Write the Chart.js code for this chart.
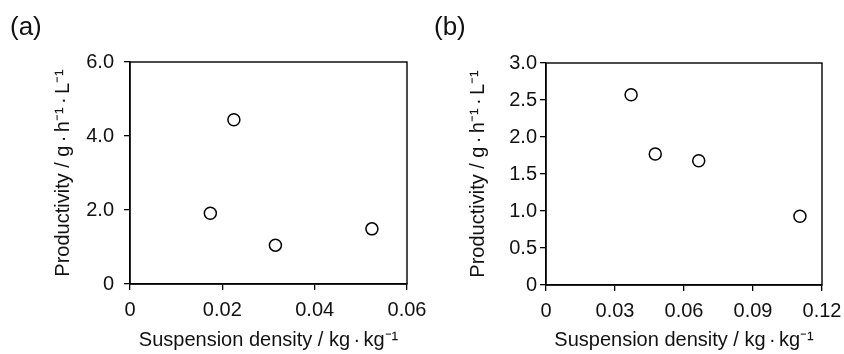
<!DOCTYPE html>
<html>
<head>
<meta charset="utf-8">
<script src="https://cdn.jsdelivr.net/npm/chart.js@4"></script>
<style>
  html, body { margin: 0; padding: 0; background: #fff; }
  body { width: 844px; height: 354px; position: relative; overflow: hidden; font-family: "Liberation Sans", Arial, sans-serif; }
  .panel { position: absolute; top: 0; height: 354px; }
  .tag { position: absolute; top: 11px; font-size: 26px; line-height: normal; color: #111; }
</style>
</head>
<body>
<div class="panel" style="left:0; width:450px"><canvas id="chartA"></canvas></div>
<div class="panel" style="left:422px; width:422px"><canvas id="chartB"></canvas></div>
<div class="tag" style="left:10px">(a)</div>
<div class="tag" style="left:434px">(b)</div>
<script>
// datos panel (a)
const densityA = [0.0174, 0.0225, 0.0315, 0.0524];
const productivityA = [1.91, 4.44, 1.05, 1.49];
const xTicksA = [0, 0.02, 0.04, 0.06];
const xLabelsA = ['0', '0.02', '0.04', '0.06'];
const yTicksA = [0, 2, 4, 6];
const yLabelsA = ['0', '2.0', '4.0', '6.0'];

// datos panel (b)
const densityB = [0.0370, 0.0475, 0.0664, 0.1104];
const productivityB = [2.57, 1.77, 1.68, 0.93];
const xTicksB = [0, 0.03, 0.06, 0.09, 0.12];
const xLabelsB = ['0', '0.03', '0.06', '0.09', '0.12'];
const yTicksB = [0, 0.5, 1, 1.5, 2, 2.5, 3];
const yLabelsB = ['0', '0.5', '1.0', '1.5', '2.0', '2.5', '3.0'];

const dot = '\u2006\u00B7\u2006';
const xTitle = 'Suspension density / kg' + dot + 'kg\u207B\u00B9';
const yTitle = 'Productivity / g' + dot + 'h\u207B\u00B9' + dot + 'L\u207B\u00B9';

Chart.defaults.font.family = '"Liberation Sans", Arial, sans-serif';
Chart.defaults.color = '#111';

// marco completo alrededor del área del gráfico
const frame = {
    id: 'frame',
    afterDraw(chart) {
        const a = chart.chartArea;
        const c = chart.ctx;
        c.save();
        c.strokeStyle = '#000';
        c.lineWidth = 1.4;
        c.strokeRect(a.left, a.top, a.right - a.left, a.bottom - a.top);
        c.restore();
    }
};

function makeChart(id, xs, ys, xTicks, xLabels, yTicks, yLabels, opts) {
    const ctx = document.getElementById(id).getContext('2d');
    return new Chart(ctx, {
        type: 'scatter',
        data: {
            datasets: [{
                data: xs.map((x, i) => ({ x: x, y: ys[i] })),
                pointStyle: 'circle',
                pointRadius: 6,
                pointBackgroundColor: '#fff',
                pointBorderColor: '#000',
                pointBorderWidth: 1.5
            }]
        },
        options: {
            responsive: true,
            maintainAspectRatio: false,
            animation: false,
            layout: { padding: opts.pad },
            plugins: { legend: { display: false }, tooltip: { enabled: false } },
            scales: {
                x: {
                    type: 'linear',
                    min: xTicks[0],
                    max: xTicks[xTicks.length - 1],
                    afterBuildTicks: s => { s.ticks = xTicks.map(v => ({ value: v })); },
                    afterFit: s => { s.height = opts.xHeight; s.paddingLeft = 0; s.paddingRight = 0; },
                    ticks: {
                        autoSkip: false,
                        maxRotation: 0,
                        padding: 8,
                        font: { size: 20 },
                        callback: (v, i) => xLabels[i]
                    },
                    grid: { drawOnChartArea: false, tickLength: 6, color: '#000', lineWidth: 1.3 },
                    border: { display: true, color: '#000', width: 1.4 },
                    title: { display: true, text: xTitle, font: { size: 20 }, padding: { top: 0, bottom: 2 } }
                },
                y: {
                    type: 'linear',
                    min: yTicks[0],
                    max: yTicks[yTicks.length - 1],
                    afterBuildTicks: s => { s.ticks = yTicks.map(v => ({ value: v })); },
                    afterFit: s => { s.width = opts.yWidth; s.paddingTop = 0; s.paddingBottom = 0; },
                    ticks: {
                        autoSkip: false,
                        padding: opts.yPad,
                        font: { size: 20 },
                        callback: (v, i) => yLabels[i]
                    },
                    grid: { drawOnChartArea: false, tickLength: 6, color: '#000', lineWidth: 1.3 },
                    border: { display: true, color: '#000', width: 1.4 },
                    title: { display: true, text: yTitle, font: { size: 20 }, padding: { top: opts.yTitlePad, bottom: 0 } }
                }
            }
        },
        plugins: [frame]
    });
}

makeChart('chartA', densityA, productivityA, xTicksA, xLabelsA, yTicksA, yLabelsA,
    { pad: { top: 62, right: 43, left: 0, bottom: 0 }, yWidth: 130, xHeight: 70, yPad: 10, yTitlePad: 51 });
makeChart('chartB', densityB, productivityB, xTicksB, xLabelsB, yTicksB, yLabelsB,
    { pad: { top: 63, right: 22, left: 0, bottom: 0 }, yWidth: 124, xHeight: 69, yPad: 3, yTitlePad: 44 });
</script>
</body>
</html>
